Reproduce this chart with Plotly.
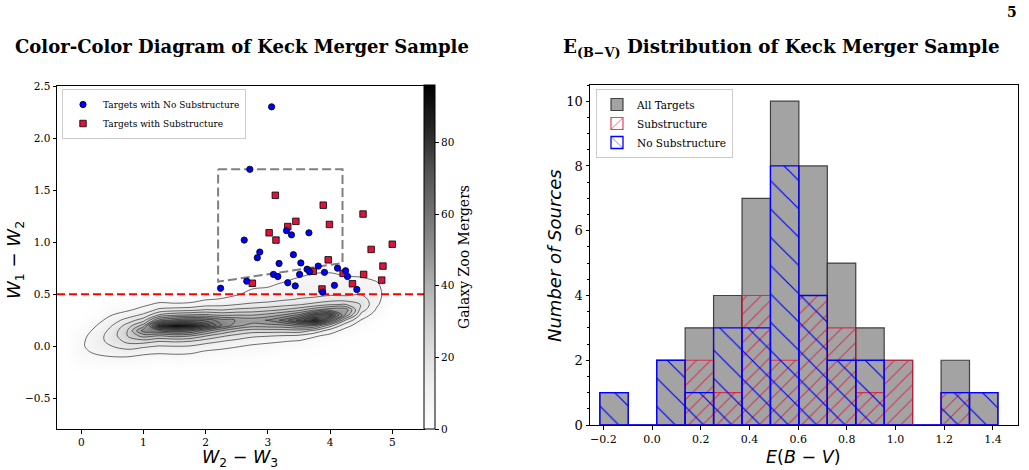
import numpy as np
import plotly.graph_objects as go

# ---------------- Left panel: WISE colour-colour data ----------------
nosub_w23 = [3.06, 2.71, 2.62, 2.87, 2.83, 3.30, 3.38, 3.66, 3.41, 3.18, 3.53, 3.09, 3.16, 3.51,
             3.63, 3.67, 3.81, 3.91, 4.12, 4.25, 4.28, 2.66, 3.32, 3.44, 4.07, 4.43, 2.24, 3.88]
nosub_w12 = [2.30, 1.70, 1.02, 0.905, 0.85, 1.11, 1.07, 1.09, 0.88, 0.795, 0.80, 0.69, 0.67, 0.69,
             0.74, 0.715, 0.77, 0.71, 0.75, 0.725, 0.67, 0.625, 0.61, 0.58, 0.585, 0.545, 0.557, 0.52]
sub_w23 = [3.12, 3.89, 4.53, 3.32, 3.45, 3.99, 3.02, 3.13, 4.66, 5.00, 3.97, 4.85, 3.73, 4.21,
           4.54, 4.83, 4.36, 2.75, 3.87]
sub_w12 = [1.45, 1.355, 1.27, 1.15, 1.20, 1.17, 1.09, 1.02, 0.93, 0.98, 0.83, 0.77, 0.72, 0.70,
           0.69, 0.635, 0.60, 0.605, 0.55]

jarrett_w23 = [2.2, 4.2, 4.2, 2.2, 2.2]
jarrett_w12 = [1.7, 1.7, 0.8, 0.62, 1.7]
agn_cut = 0.5

# Galaxy Zoo merger density, one list per W2-W3 column
density_w23 = [-0.25, 0.0, 0.25, 0.5, 0.75, 1.0, 1.25, 1.5, 1.75, 2.0, 2.25, 2.5, 2.75,
               3.0, 3.25, 3.5, 3.75, 4.0, 4.25, 4.5, 4.75, 5.0, 5.25]
density_w12 = [-0.2, -0.15, -0.1, -0.05, 0.0, 0.05, 0.1, 0.15, 0.2, 0.25, 0.3, 0.35, 0.4,
               0.45, 0.5, 0.55, 0.6, 0.65, 0.7, 0.75]
density_cols = [
    [0, 0, 0, 0, 0, 0, 0, 0, 0, 0, 0, 0, 0, 0, 0, 0, 0, 0, 0, 0],
    [1.6, 2.7, 4, 5, 5.5, 5, 4, 2.7, 1.6, 0.9, 0.4, 0, 0, 0, 0, 0, 0, 0, 0, 0],
    [1.8, 3.3, 5.5, 7.9, 9.9, 11, 10.5, 8.5, 6.5, 4, 2, 1, 0.4, 0, 0, 0, 0, 0, 0, 0],
    [2, 3.8, 6.5, 10, 13.5, 16, 17, 16, 13.5, 10, 6.5, 3.8, 2, 0.9, 0.4, 0, 0, 0, 0, 0],
    [1.5, 3.5, 6.6, 11, 17, 23, 28, 28, 23.5, 16.5, 10, 5.5, 2.8, 1.2, 0.5, 0, 0, 0, 0, 0],
    [1.6, 2.9, 5.2, 8.8, 15, 24.5, 37.5, 52, 37.5, 24.5, 15, 8.8, 5.2, 2.9, 1.6, 0.8, 0, 0, 0, 0],
    [1, 2, 4.5, 8, 13, 21, 34, 55, 84, 50, 28, 15, 8, 4, 2, 1, 0.4, 0, 0, 0],
    [1.2, 2.4, 4.8, 8.5, 13.5, 22, 37, 60, 95, 58, 33, 17, 7.5, 3.8, 2, 1, 0.5, 0, 0, 0],
    [1.2, 2.3, 4.6, 8, 13, 21, 35, 57, 90, 62, 35, 18, 8, 4, 2, 1, 0.5, 0, 0, 0],
    [1, 2, 3.5, 6, 10, 17, 28, 45, 75, 60, 36, 21, 11, 6, 3, 1.5, 0.7, 0, 0, 0],
    [0.8, 1.5, 2.8, 5, 8.5, 14, 22, 35, 56, 52, 33, 20, 11.5, 7, 4, 2, 1, 0, 0, 0],
    [0.5, 1, 2, 3.8, 7, 11.5, 18, 28, 44, 48, 34, 22, 13.5, 8.5, 6, 3.5, 1.8, 0.8, 0, 0],
    [0.3, 0.7, 1.5, 3, 5.5, 9, 15, 24, 38, 46, 34, 23, 15, 10, 8, 6.5, 3.5, 1.5, 0.5, 0],
    [0.2, 0.5, 1, 2.2, 4.5, 8, 14, 24, 39, 49, 37, 25, 16, 11, 9, 7.5, 4.5, 2, 0.8, 0],
    [0.1, 0.3, 0.7, 1.6, 3.5, 7, 13, 24, 40, 58, 42, 28, 18, 12.5, 10, 8.5, 7.5, 4, 1.5, 0.5],
    [0, 0.2, 0.5, 1.2, 2.8, 6, 12, 25, 45, 72, 50, 32, 20, 14, 11, 9.5, 8.5, 7.5, 3, 1],
    [0, 0.1, 0.3, 0.8, 1.8, 3.5, 7.5, 19, 42, 86, 70, 40, 23, 15, 11.5, 10, 9, 8.5, 6.5, 2],
    [0, 0, 0.1, 0.4, 1, 2, 4.5, 10, 24, 52, 75, 46, 27, 17, 12.5, 10.5, 9.5, 9, 7, 2.5],
    [0, 0, 0, 0.1, 0.3, 0.8, 1.8, 4, 9, 20, 40, 46, 28, 17, 12, 10, 9, 8, 5, 1.5],
    [0, 0, 0, 0, 0, 0.2, 0.5, 1, 3, 6, 11, 17, 20, 17, 13, 10.5, 9, 7.5, 4, 1],
    [0, 0, 0, 0, 0, 0, 0, 0.2, 0.5, 1, 3, 5.5, 7.5, 8.5, 9, 8.5, 7.5, 5, 2.5, 1],
    [0, 0, 0, 0, 0, 0, 0, 0, 0, 0, 0, 0, 0.3, 1, 1.5, 1, 0.5, 0, 0, 0],
    [0, 0, 0, 0, 0, 0, 0, 0, 0, 0, 0, 0, 0, 0, 0, 0, 0, 0, 0, 0],
]
density_max = 96
contour_start, contour_end, contour_step = 6.5, 90, 7
cbar_ticks = [0, 20, 40, 60, 80]

left_x_range = [-0.39, 5.51]
left_y_range = [-0.795, 2.5]
left_x_ticks = [0, 1, 2, 3, 4, 5]
left_y_ticks = [-0.5, 0.0, 0.5, 1.0, 1.5, 2.0, 2.5]

# ---------------- Right panel: E(B-V) histogram ----------------
bin_edges = [-0.2146, -0.0978, 0.0190, 0.1358, 0.2526, 0.3694, 0.4862, 0.6030,
             0.7198, 0.8366, 0.9534, 1.0702, 1.1870, 1.3038, 1.4206]
all_counts = [1, 0, 2, 3, 4, 7, 10, 8, 5, 3, 2, 0, 2, 1]
sub_counts = [0, 0, 0, 2, 1, 4, 2, 4, 3, 1, 2, 0, 1, 0]
nosub_counts = [1, 0, 2, 1, 3, 3, 8, 4, 2, 2, 0, 0, 1, 1]

right_x_range = [-0.255, 1.503]
right_y_range = [0, 10.5]
right_x_ticks = [-0.2, 0.0, 0.2, 0.4, 0.6, 0.8, 1.0, 1.2, 1.4]
right_y_ticks = [0, 2, 4, 6, 8, 10]

# ---------------- figure ----------------
W, H = 1029, 470
SERIF = "DejaVu Serif"
SANS = "DejaVu Sans"

greys = [[0.0, "#ffffff"], [0.125, "#f0f0f0"], [0.25, "#d9d9d9"], [0.375, "#bdbdbd"],
         [0.5, "#969696"], [0.625, "#737373"], [0.75, "#525252"], [0.875, "#252525"],
         [1.0, "#000000"]]

z = np.array(density_cols).T.tolist()

fig = go.Figure()

fig.add_trace(go.Heatmap(
    x=density_w23, y=density_w12, z=z, zmin=0, zmax=density_max, zsmooth="best",
    colorscale=greys, hoverinfo="skip", showlegend=False, xaxis="x", yaxis="y",
    colorbar=dict(
        x=424 / W, xanchor="left", y=(H - 257) / H, yanchor="middle",
        len=344 / H, lenmode="fraction", thickness=11, thicknessmode="pixels",
        xpad=0, ypad=0, outlinewidth=1, outlinecolor="black",
        ticks="outside", ticklen=4, tickcolor="black", tickvals=cbar_ticks,
        tickfont=dict(family=SERIF, size=10.5, color="black"),
        title=dict(text="Galaxy Zoo Mergers", side="right",
                   font=dict(family=SERIF, size=14, color="black")),
    ),
))

fig.add_trace(go.Contour(
    x=density_w23, y=density_w12, z=z, showscale=False, hoverinfo="skip", showlegend=False,
    contours=dict(coloring="none", start=contour_start, end=contour_end, size=contour_step),
    line=dict(color="rgba(40,40,40,0.85)", width=0.8, smoothing=1.0),
    xaxis="x", yaxis="y",
))

fig.add_trace(go.Scatter(
    x=jarrett_w23, y=jarrett_w12, mode="lines", showlegend=False, hoverinfo="skip",
    line=dict(color="gray", width=2, dash="9px,4px"), xaxis="x", yaxis="y",
))
fig.add_trace(go.Scatter(
    x=left_x_range, y=[agn_cut, agn_cut], mode="lines", showlegend=False, hoverinfo="skip",
    line=dict(color="red", width=2, dash="8px,4px"), xaxis="x", yaxis="y",
))

fig.add_trace(go.Scatter(
    x=sub_w23, y=sub_w12, mode="markers", name="Targets with Substructure",
    marker=dict(symbol="square", size=6.5, color="crimson", line=dict(color="black", width=0.8)),
    xaxis="x", yaxis="y", legend="legend",
))
fig.add_trace(go.Scatter(
    x=nosub_w23, y=nosub_w12, mode="markers", name="Targets with No Substructure",
    marker=dict(symbol="circle", size=6.3, color="blue", line=dict(color="black", width=0.8)),
    xaxis="x", yaxis="y", legend="legend",
))

edges = np.array(bin_edges)
centers = ((edges[:-1] + edges[1:]) / 2).tolist()
widths = np.diff(edges).tolist()

fig.add_trace(go.Bar(
    x=centers, y=all_counts, width=widths, name="All Targets",
    marker=dict(color="#a3a3a3", line=dict(color="rgba(40,40,40,0.85)", width=1.2)),
    xaxis="x2", yaxis="y2", legend="legend2", hoverinfo="skip",
))
fig.add_trace(go.Bar(
    x=centers, y=sub_counts, width=widths, name="Substructure",
    marker=dict(color="rgba(0,0,0,0)", line=dict(color="rgba(220,20,60,0.8)", width=1.2),
                pattern=dict(shape="/", fgcolor="rgba(220,20,60,0.8)", bgcolor="rgba(0,0,0,0)",
                             size=10, solidity=0.1, fillmode="replace")),
    xaxis="x2", yaxis="y2", legend="legend2", hoverinfo="skip",
))
fig.add_trace(go.Bar(
    x=centers, y=nosub_counts, width=widths, name="No Substructure",
    marker=dict(color="rgba(0,0,0,0)", line=dict(color="blue", width=1.3),
                pattern=dict(shape="\\", fgcolor="blue", bgcolor="rgba(0,0,0,0)",
                             size=20, solidity=0.06, fillmode="replace")),
    xaxis="x2", yaxis="y2", legend="legend2", hoverinfo="skip",
))

axis_common = dict(showgrid=False, zeroline=False, showline=True, mirror=True,
                   linecolor="black", linewidth=1, ticks="outside", ticklen=3.5,
                   tickwidth=1, tickcolor="black", automargin=False)

fig.update_layout(
    width=W, height=H, margin=dict(l=0, r=0, t=0, b=0, pad=0, autoexpand=False),
    paper_bgcolor="white", plot_bgcolor="white", barmode="overlay",
    xaxis=dict(domain=[57 / W, 424 / W], range=left_x_range, tickvals=left_x_ticks,
               tickfont=dict(family=SERIF, size=10.5, color="black"), anchor="y", **axis_common),
    yaxis=dict(domain=[(H - 429) / H, (H - 86) / H], range=left_y_range, tickvals=left_y_ticks,
               tickformat=".1f", tickfont=dict(family=SERIF, size=10.5, color="black"),
               anchor="x", **axis_common),
    xaxis2=dict(domain=[590 / W, 1018 / W], range=right_x_range, tickvals=right_x_ticks,
                tickformat=".1f", tickfont=dict(family=SERIF, size=11, color="black"),
                anchor="y2", **axis_common),
    yaxis2=dict(domain=[(H - 425) / H, (H - 85) / H], range=right_y_range, tickvals=right_y_ticks,
                tickfont=dict(family=SERIF, size=13, color="black"), anchor="x2",
                minor=dict(dtick=0.5, ticks="outside", ticklen=2, tickcolor="black"),
                **axis_common),
    legend=dict(x=62 / W, y=(H - 89) / H, xanchor="left", yanchor="top",
                traceorder="reversed", bgcolor="rgba(255,255,255,0.8)",
                bordercolor="#cccccc", borderwidth=1, tracegroupgap=0,
                font=dict(family=SERIF, size=9, color="black")),
    legend2=dict(x=596 / W, y=(H - 89) / H, xanchor="left", yanchor="top",
                 bgcolor="rgba(255,255,255,0.8)", bordercolor="#cccccc", borderwidth=1,
                 tracegroupgap=0, font=dict(family=SERIF, size=10.5, color="black")),
    showlegend=True,
)

annotations = [
    dict(text="<b>Color-Color Diagram of Keck Merger Sample</b>", x=242 / W, y=(H - 47) / H,
         font=dict(family=SERIF, size=18, color="black")),
    dict(text="<b>E<sub>(B−V)</sub> Distribution of Keck Merger Sample</b>", x=781 / W,
         y=(H - 48) / H, font=dict(family=SERIF, size=18.3, color="black")),
    dict(text="<b>5</b>", x=1012 / W, y=(H - 12) / H,
         font=dict(family=SERIF, size=14, color="black")),
    dict(text="<i>W</i><sub>2</sub> − <i>W</i><sub>3</sub>", x=240 / W, y=(H - 458) / H,
         font=dict(family=SANS, size=17.5, color="black")),
    dict(text="<i>W</i><sub>1</sub> − <i>W</i><sub>2</sub>", x=15 / W, y=(H - 260) / H,
         textangle=-90, font=dict(family=SANS, size=18, color="black")),
    dict(text="<i>E</i>(<i>B</i> − <i>V</i>)", x=803 / W, y=(H - 457) / H,
         font=dict(family=SANS, size=17.5, color="black")),
    dict(text="<i>Number of Sources</i>", x=554 / W, y=(H - 256) / H, textangle=-90,
         font=dict(family=SANS, size=18, color="black")),
]
for a in annotations:
    a.update(xref="paper", yref="paper", showarrow=False, xanchor="center", yanchor="middle")
fig.update_layout(annotations=annotations)

fig.write_html("out.html")
